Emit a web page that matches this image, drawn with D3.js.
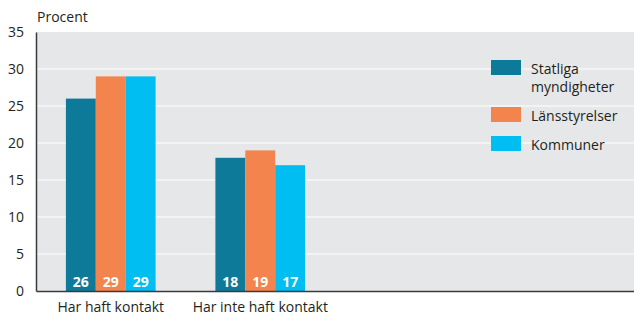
<!DOCTYPE html>
<html>
<head>
<meta charset="utf-8">
<script src="https://cdn.jsdelivr.net/npm/d3@7"></script>
<style>
  body { margin: 0; background: #fff; }
  svg text { font-family: "Open Sans", sans-serif; fill: #231f20; }
</style>
</head>
<body>
<div id="chart"></div>
<script>
// data
const categories = ["Har haft kontakt", "Har inte haft kontakt"];
const seriesNames = ["Statliga myndigheter", "Länsstyrelser", "Kommuner"];
const legendLines = [["Statliga", "myndigheter"], ["Länsstyrelser"], ["Kommuner"]];
const statliga = [26, 18];
const lansstyrelser = [29, 19];
const kommuner = [29, 17];
const yTicks = [0, 5, 10, 15, 20, 25, 30, 35];
const colors = ["#0e7a9a", "#f4844e", "#00bdf2"];

const width = 634, height = 316;
const margin = {top: 32, right: 0, bottom: 25, left: 36};

let svg = d3.select("#chart").append("svg")
    .attr("width", width)
    .attr("height", height);

// 4 slots, only first two are used
let xScale = d3.scaleBand()
    .domain(d3.range(4))
    .range([margin.left, width - margin.right]);

let xSub = d3.scaleBand()
    .domain(seriesNames)
    .range([xScale.bandwidth() * 0.2, xScale.bandwidth() * 0.8]);

let yScale = d3.scaleLinear()
    .domain([0, 35])
    .range([height - margin.bottom, margin.top]);

// background
svg.append("rect")
    .attr("x", margin.left)
    .attr("y", yScale(35))
    .attr("width", width - margin.right - margin.left)
    .attr("height", yScale(0) - yScale(35))
    .attr("fill", "#e6e7e9");

// grid lines
svg.append("g").selectAll("line")
    .data(yTicks.filter(d => d > 0 && d < 35))
    .enter().append("line")
    .attr("x1", margin.left)
    .attr("x2", width - margin.right)
    .attr("y1", d => yScale(d))
    .attr("y2", d => yScale(d))
    .attr("stroke", "#fff")
    .attr("stroke-width", 1.2);

// bars
let values = [statliga, lansstyrelser, kommuner];
let barData = [];
categories.forEach((c, i) => {
    seriesNames.forEach((s, j) => {
        barData.push({cat: i, series: s, value: values[j][i], color: colors[j]});
    });
});

svg.append("g").selectAll("rect")
    .data(barData)
    .enter().append("rect")
    .attr("x", d => xScale(d.cat) + xSub(d.series))
    .attr("width", xSub.bandwidth())
    .attr("y", d => yScale(d.value))
    .attr("height", d => yScale(0) - yScale(d.value))
    .attr("fill", d => d.color);

// value labels
svg.append("g").selectAll("text")
    .data(barData)
    .enter().append("text")
    .attr("x", d => xScale(d.cat) + xSub(d.series) + xSub.bandwidth() / 2)
    .attr("y", yScale(0) - 4)
    .attr("text-anchor", "middle")
    .style("font-size", "14px")
    .style("font-weight", "bold")
    .style("fill", "#fff")
    .text(d => d.value);

// y axis
let yAxis = d3.axisLeft(yScale).tickValues(yTicks).tickSize(0).tickPadding(12);
let yAx = svg.append("g")
    .attr("transform", "translate(" + margin.left + ",0)")
    .call(yAxis);
yAx.select(".domain").attr("stroke", "#3a3a3a").attr("stroke-width", 1.5);
yAx.selectAll("text").style("font-size", "14px").style("fill", "#231f20");

// x axis
let xAx = svg.append("g")
    .attr("transform", "translate(0," + yScale(0) + ")")
    .call(d3.axisBottom(xScale).tickSize(0).tickPadding(11)
        .tickFormat(i => categories[i] || ""));
xAx.select(".domain").attr("stroke", "#3a3a3a").attr("stroke-width", 1.5);
xAx.selectAll("text").style("font-size", "14px").style("fill", "#231f20");

// axis title
svg.append("text")
    .attr("x", 37)
    .attr("y", 22)
    .style("font-size", "14px")
    .text("Procent");

// legend
let legend = svg.append("g").attr("transform", "translate(491,60)");
let legendY = [0, 47, 76];
seriesNames.forEach((s, i) => {
    let g = legend.append("g").attr("transform", "translate(0," + legendY[i] + ")");
    g.append("rect")
        .attr("width", 30)
        .attr("height", 15)
        .attr("fill", colors[i]);
    legendLines[i].forEach((line, k) => {
        g.append("text")
            .attr("x", 40)
            .attr("y", 14 + k * 18)
            .style("font-size", "14px")
            .text(line);
    });
});
</script>
</body>
</html>
